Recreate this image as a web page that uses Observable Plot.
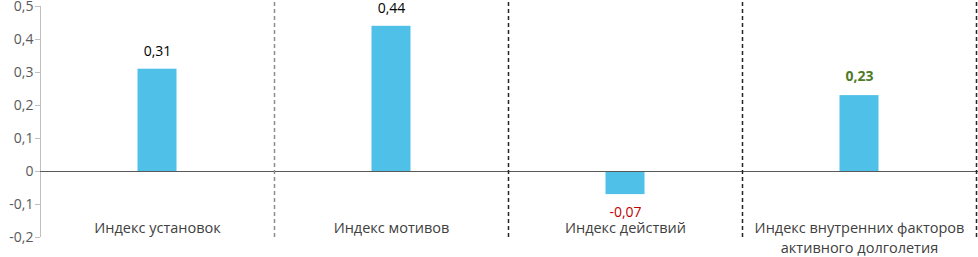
<!DOCTYPE html>
<html><head><meta charset="utf-8">
<script src="https://cdn.jsdelivr.net/npm/d3@7"></script>
<script src="https://cdn.jsdelivr.net/npm/@observablehq/plot@0.6"></script>
<style>body{margin:0;background:#fff}</style>
</head><body><div id="chart"></div>
<script>
const categories = ["Индекс установок", "Индекс мотивов", "Индекс действий", "Индекс внутренних факторов\nактивного долголетия"];
const values = [0.31, 0.44, -0.07, 0.23];
const labelColors = ["#000000", "#000000", "#C00000", "#4F7A28"];
const labelBold = [false, false, false, true];
const separatorColors = ["#8c8c8c", "#8c8c8c", "#262626", "#262626"];
const yTicks = [-0.2, -0.1, 0, 0.1, 0.2, 0.3, 0.4, 0.5];

const data = categories.map((c, i) => ({category: c, value: values[i], color: labelColors[i], bold: labelBold[i], sep: separatorColors[i]}));
const W = 978, ML = 40, MR = 2;
const bw = (W - ML - MR) / categories.length;
const barW = 39;
const comma = v => String(+v.toFixed(2)).replace(".", ",");
const font = "'Open Sans', sans-serif";

const chart = Plot.plot({
  width: W, height: 257,
  marginLeft: ML, marginRight: MR, marginTop: 6, marginBottom: 20,
  style: {fontFamily: font, fontSize: "14px", background: "#fff", overflow: "visible"},
  x: {domain: categories, padding: 0, axis: null},
  y: {domain: [-0.2, 0.5], ticks: yTicks, tickFormat: d => comma(d), label: null},
  marks: [
    Plot.axisY(yTicks, {label: null, tickSize: 5, tickPadding: 2, fontSize: 14, color: "#595959", stroke: "#bfbfbf", tickFormat: d => comma(d)}),
    Plot.barY(data, {x: "category", y: "value", fill: "#4FC1E9", insetLeft: (bw - barW) / 2, insetRight: (bw - barW) / 2}),
    Plot.ruleX([categories[0]], {dx: -bw / 2, y1: -0.2, y2: 0.5, stroke: "#bfbfbf"}),
    Plot.ruleY([0], {stroke: "#595959", insetRight: -MR}),
    Plot.ruleX(data.slice(1), {x: "category", dx: -bw / 2, stroke: "sep", strokeDasharray: "4,3", strokeWidth: 1.5, insetTop: -4}),
    Plot.ruleX(data.slice(3), {x: "category", dx: bw / 2, stroke: "#262626", strokeDasharray: "4,3", strokeWidth: 1.5, insetTop: -4}),
    Plot.text(data.filter(d => !d.bold && d.value >= 0), {x: "category", y: "value", text: d => comma(d.value), fill: "color", fontSize: 14, dy: -18}),
    Plot.text(data.filter(d => !d.bold && d.value < 0), {x: "category", y: "value", text: d => comma(d.value), fill: "color", fontSize: 14, dy: 18}),
    Plot.text(data.filter(d => d.bold), {x: "category", y: "value", text: d => comma(d.value), fill: "color", fontSize: 14, fontWeight: "bold", dy: -19}),
    Plot.text(data, {x: "category", text: "category", frameAnchor: "bottom", lineAnchor: "top", dy: -19, fontSize: 14.5, fill: "#404040", lineHeight: 1.4})
  ]
});
document.getElementById("chart").appendChild(chart);
</script>
</body></html>
